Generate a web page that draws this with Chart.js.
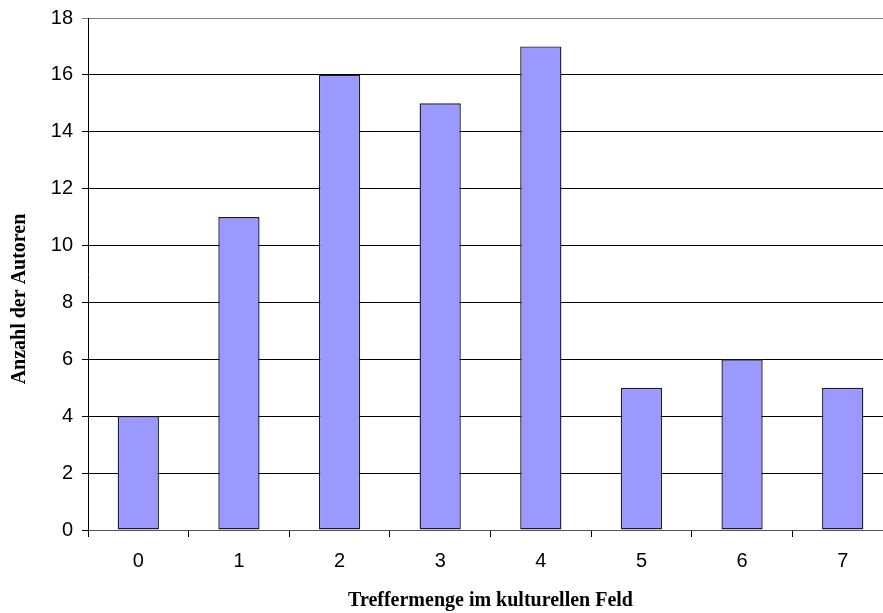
<!DOCTYPE html>
<html>
<head>
<meta charset="utf-8">
<script src="https://cdn.jsdelivr.net/npm/chart.js@4/dist/chart.umd.min.js"></script>
<style>
  html, body { margin: 0; padding: 0; background: #fff; overflow: hidden; }
  #wrap { width: 900px; height: 613px; }
</style>
</head>
<body>
<div id="wrap"><canvas id="barChart" width="900" height="613"></canvas></div>
<script>
// Treffermenge (x) vs. Anzahl der Autoren (y)
const categories = ['0', '1', '2', '3', '4', '5', '6', '7'];
const authorCounts = [4, 11, 16, 15, 17, 5, 6, 5];
const yTicks = [0, 2, 4, 6, 8, 10, 12, 14, 16, 18];
const yTitle = 'Anzahl der Autoren';
const xTitle = 'Treffermenge im kulturellen Feld';

// y axis title sits a bit below the middle of the plot in the original
const yTitlePlugin = {
    id: 'yTitlePlugin',
    afterDraw(chart) {
        const c = chart.ctx;
        c.save();
        c.translate(20, 299);
        c.rotate(-Math.PI / 2);
        c.font = 'bold 20px "Liberation Serif", "Times New Roman", serif';
        c.fillStyle = '#000';
        c.textAlign = 'center';
        c.textBaseline = 'middle';
        c.fillText(yTitle, 0, 0);
        c.restore();
    }
};

const ctx = document.getElementById('barChart').getContext('2d');
const barChart = new Chart(ctx, {
    type: 'bar',
    data: {
        labels: categories,
        datasets: [{
            label: yTitle,
            data: authorCounts,
            backgroundColor: '#9999ff',
            borderColor: '#1a1a33',
            borderWidth: 1.4,
            borderSkipped: false,
            barPercentage: 0.41,
            categoryPercentage: 1.0
        }]
    },
    options: {
        responsive: false,
        animation: false,
        layout: { padding: { top: 18, right: 7, left: 0, bottom: 0 } },
        plugins: {
            legend: { display: false },
            tooltip: { enabled: false }
        },
        scales: {
            x: {
                offset: true,
                grid: {
                    offset: true,
                    drawOnChartArea: false,
                    drawTicks: true,
                    tickLength: 7,
                    color: '#000'
                },
                border: { color: '#555', width: 1 },
                ticks: {
                    color: '#000',
                    font: { family: 'Liberation Sans, Arial', size: 20 },
                    padding: 12
                },
                title: {
                    display: true,
                    text: xTitle,
                    color: '#000',
                    font: { family: 'Liberation Serif, Times New Roman', size: 20, weight: 'bold' },
                    padding: { top: 6, bottom: 0 }
                },
                afterFit: scale => { scale.height = 83; }
            },
            y: {
                min: 0,
                max: 18,
                afterBuildTicks: scale => { scale.ticks = yTicks.map(v => ({ value: v })); },
                grid: {
                    color: c => (c.tick && c.tick.value === 18) ? '#808080' : '#000',
                    tickLength: 6
                },
                border: { color: '#000', width: 1 },
                ticks: {
                    color: '#000',
                    font: { family: 'Liberation Sans, Arial', size: 20 },
                    padding: 9
                },
                afterFit: scale => {
                    scale.width = 88;
                    scale.paddingTop = 0;
                    scale.paddingBottom = 0;
                }
            }
        }
    },
    plugins: [yTitlePlugin]
});
</script>
</body>
</html>
